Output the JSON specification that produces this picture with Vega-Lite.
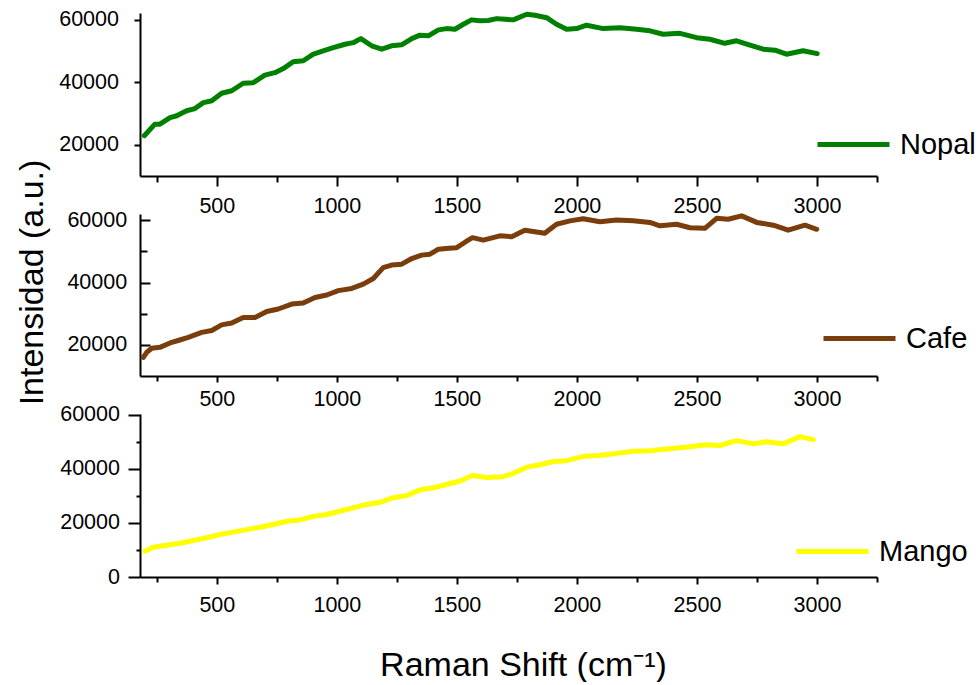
{
  "$schema": "https://vega.github.io/schema/vega-lite/v6.json",
  "background": "white",
  "padding": {"left": 14, "top": 8, "right": 0, "bottom": 0},
  "bounds": "flush",
  "spacing": 38,
  "config": {
    "view": {"stroke": null},
    "font": "Liberation Sans",
    "axis": {
      "labelFont": "Liberation Sans",
      "labelFontSize": 21.5,
      "labelColor": "black",
      "domainColor": "black",
      "tickColor": "black",
      "domainWidth": 2,
      "tickWidth": 2,
      "grid": false,
      "titleFont": "Liberation Sans",
      "titleFontWeight": "normal",
      "titleColor": "black",
      "titleFontSize": 34,
      "format": "d"
    },
    "legend": {
      "labelFont": "Liberation Sans",
      "labelFontSize": 29,
      "labelColor": "black"
    }
  },
  "datasets": {
    "spectra": [
      {"sample": "Nopal", "shift": 198, "intensity": 22900},
      {"sample": "Nopal", "shift": 242, "intensity": 26600},
      {"sample": "Nopal", "shift": 263, "intensity": 26600},
      {"sample": "Nopal", "shift": 305, "intensity": 28700},
      {"sample": "Nopal", "shift": 333, "intensity": 29300},
      {"sample": "Nopal", "shift": 374, "intensity": 30900},
      {"sample": "Nopal", "shift": 409, "intensity": 31600},
      {"sample": "Nopal", "shift": 444, "intensity": 33500},
      {"sample": "Nopal", "shift": 479, "intensity": 34100},
      {"sample": "Nopal", "shift": 520, "intensity": 36500},
      {"sample": "Nopal", "shift": 562, "intensity": 37300},
      {"sample": "Nopal", "shift": 610, "intensity": 39700},
      {"sample": "Nopal", "shift": 652, "intensity": 39900},
      {"sample": "Nopal", "shift": 700, "intensity": 42300},
      {"sample": "Nopal", "shift": 742, "intensity": 43100},
      {"sample": "Nopal", "shift": 777, "intensity": 44400},
      {"sample": "Nopal", "shift": 818, "intensity": 46600},
      {"sample": "Nopal", "shift": 860, "intensity": 46900},
      {"sample": "Nopal", "shift": 902, "intensity": 49000},
      {"sample": "Nopal", "shift": 943, "intensity": 50100},
      {"sample": "Nopal", "shift": 985, "intensity": 51100},
      {"sample": "Nopal", "shift": 1034, "intensity": 52200},
      {"sample": "Nopal", "shift": 1068, "intensity": 52700},
      {"sample": "Nopal", "shift": 1100, "intensity": 54000},
      {"sample": "Nopal", "shift": 1145, "intensity": 51700},
      {"sample": "Nopal", "shift": 1187, "intensity": 50600},
      {"sample": "Nopal", "shift": 1228, "intensity": 51700},
      {"sample": "Nopal", "shift": 1270, "intensity": 52000},
      {"sample": "Nopal", "shift": 1312, "intensity": 54000},
      {"sample": "Nopal", "shift": 1346, "intensity": 55100},
      {"sample": "Nopal", "shift": 1381, "intensity": 54900},
      {"sample": "Nopal", "shift": 1423, "intensity": 56800},
      {"sample": "Nopal", "shift": 1457, "intensity": 57200},
      {"sample": "Nopal", "shift": 1492, "intensity": 57000},
      {"sample": "Nopal", "shift": 1527, "intensity": 58600},
      {"sample": "Nopal", "shift": 1561, "intensity": 60000},
      {"sample": "Nopal", "shift": 1596, "intensity": 59700},
      {"sample": "Nopal", "shift": 1630, "intensity": 59800},
      {"sample": "Nopal", "shift": 1666, "intensity": 60400},
      {"sample": "Nopal", "shift": 1735, "intensity": 60000},
      {"sample": "Nopal", "shift": 1791, "intensity": 61800},
      {"sample": "Nopal", "shift": 1825, "intensity": 61500},
      {"sample": "Nopal", "shift": 1874, "intensity": 60700},
      {"sample": "Nopal", "shift": 1915, "intensity": 58600},
      {"sample": "Nopal", "shift": 1957, "intensity": 57000},
      {"sample": "Nopal", "shift": 1999, "intensity": 57200},
      {"sample": "Nopal", "shift": 2040, "intensity": 58300},
      {"sample": "Nopal", "shift": 2110, "intensity": 57200},
      {"sample": "Nopal", "shift": 2179, "intensity": 57500},
      {"sample": "Nopal", "shift": 2249, "intensity": 57000},
      {"sample": "Nopal", "shift": 2304, "intensity": 56500},
      {"sample": "Nopal", "shift": 2359, "intensity": 55400},
      {"sample": "Nopal", "shift": 2429, "intensity": 55700},
      {"sample": "Nopal", "shift": 2499, "intensity": 54300},
      {"sample": "Nopal", "shift": 2554, "intensity": 53800},
      {"sample": "Nopal", "shift": 2616, "intensity": 52500},
      {"sample": "Nopal", "shift": 2665, "intensity": 53300},
      {"sample": "Nopal", "shift": 2721, "intensity": 51900},
      {"sample": "Nopal", "shift": 2776, "intensity": 50600},
      {"sample": "Nopal", "shift": 2825, "intensity": 50300},
      {"sample": "Nopal", "shift": 2873, "intensity": 49000},
      {"sample": "Nopal", "shift": 2942, "intensity": 50100},
      {"sample": "Nopal", "shift": 3001, "intensity": 49200},
      {"sample": "Cafe", "shift": 194, "intensity": 16000},
      {"sample": "Cafe", "shift": 208, "intensity": 17600},
      {"sample": "Cafe", "shift": 229, "intensity": 18900},
      {"sample": "Cafe", "shift": 263, "intensity": 19200},
      {"sample": "Cafe", "shift": 305, "intensity": 20600},
      {"sample": "Cafe", "shift": 339, "intensity": 21400},
      {"sample": "Cafe", "shift": 381, "intensity": 22400},
      {"sample": "Cafe", "shift": 437, "intensity": 24000},
      {"sample": "Cafe", "shift": 479, "intensity": 24600},
      {"sample": "Cafe", "shift": 520, "intensity": 26400},
      {"sample": "Cafe", "shift": 562, "intensity": 27000},
      {"sample": "Cafe", "shift": 610, "intensity": 28800},
      {"sample": "Cafe", "shift": 659, "intensity": 28800},
      {"sample": "Cafe", "shift": 708, "intensity": 30700},
      {"sample": "Cafe", "shift": 756, "intensity": 31500},
      {"sample": "Cafe", "shift": 812, "intensity": 33100},
      {"sample": "Cafe", "shift": 860, "intensity": 33400},
      {"sample": "Cafe", "shift": 909, "intensity": 35200},
      {"sample": "Cafe", "shift": 958, "intensity": 36000},
      {"sample": "Cafe", "shift": 1006, "intensity": 37400},
      {"sample": "Cafe", "shift": 1062, "intensity": 38100},
      {"sample": "Cafe", "shift": 1110, "intensity": 39500},
      {"sample": "Cafe", "shift": 1152, "intensity": 41300},
      {"sample": "Cafe", "shift": 1193, "intensity": 44800},
      {"sample": "Cafe", "shift": 1228, "intensity": 45600},
      {"sample": "Cafe", "shift": 1270, "intensity": 45900},
      {"sample": "Cafe", "shift": 1312, "intensity": 47700},
      {"sample": "Cafe", "shift": 1353, "intensity": 48800},
      {"sample": "Cafe", "shift": 1388, "intensity": 49100},
      {"sample": "Cafe", "shift": 1423, "intensity": 50700},
      {"sample": "Cafe", "shift": 1467, "intensity": 51000},
      {"sample": "Cafe", "shift": 1499, "intensity": 51200},
      {"sample": "Cafe", "shift": 1537, "intensity": 53100},
      {"sample": "Cafe", "shift": 1565, "intensity": 54400},
      {"sample": "Cafe", "shift": 1610, "intensity": 53600},
      {"sample": "Cafe", "shift": 1679, "intensity": 55000},
      {"sample": "Cafe", "shift": 1728, "intensity": 54700},
      {"sample": "Cafe", "shift": 1783, "intensity": 56800},
      {"sample": "Cafe", "shift": 1866, "intensity": 55800},
      {"sample": "Cafe", "shift": 1915, "intensity": 58700},
      {"sample": "Cafe", "shift": 1971, "intensity": 59800},
      {"sample": "Cafe", "shift": 2026, "intensity": 60500},
      {"sample": "Cafe", "shift": 2096, "intensity": 59500},
      {"sample": "Cafe", "shift": 2165, "intensity": 60100},
      {"sample": "Cafe", "shift": 2235, "intensity": 59800},
      {"sample": "Cafe", "shift": 2304, "intensity": 59300},
      {"sample": "Cafe", "shift": 2346, "intensity": 58200},
      {"sample": "Cafe", "shift": 2415, "intensity": 58700},
      {"sample": "Cafe", "shift": 2471, "intensity": 57600},
      {"sample": "Cafe", "shift": 2533, "intensity": 57400},
      {"sample": "Cafe", "shift": 2582, "intensity": 60600},
      {"sample": "Cafe", "shift": 2630, "intensity": 60300},
      {"sample": "Cafe", "shift": 2686, "intensity": 61400},
      {"sample": "Cafe", "shift": 2749, "intensity": 59300},
      {"sample": "Cafe", "shift": 2818, "intensity": 58400},
      {"sample": "Cafe", "shift": 2880, "intensity": 56800},
      {"sample": "Cafe", "shift": 2950, "intensity": 58400},
      {"sample": "Cafe", "shift": 2999, "intensity": 57100},
      {"sample": "Mango", "shift": 201, "intensity": 9500},
      {"sample": "Mango", "shift": 235, "intensity": 11000},
      {"sample": "Mango", "shift": 291, "intensity": 11700},
      {"sample": "Mango", "shift": 347, "intensity": 12500},
      {"sample": "Mango", "shift": 402, "intensity": 13500},
      {"sample": "Mango", "shift": 458, "intensity": 14500},
      {"sample": "Mango", "shift": 513, "intensity": 15700},
      {"sample": "Mango", "shift": 569, "intensity": 16600},
      {"sample": "Mango", "shift": 624, "intensity": 17500},
      {"sample": "Mango", "shift": 680, "intensity": 18400},
      {"sample": "Mango", "shift": 735, "intensity": 19400},
      {"sample": "Mango", "shift": 791, "intensity": 20600},
      {"sample": "Mango", "shift": 846, "intensity": 21100},
      {"sample": "Mango", "shift": 902, "intensity": 22400},
      {"sample": "Mango", "shift": 958, "intensity": 23100},
      {"sample": "Mango", "shift": 1013, "intensity": 24300},
      {"sample": "Mango", "shift": 1069, "intensity": 25600},
      {"sample": "Mango", "shift": 1124, "intensity": 26800},
      {"sample": "Mango", "shift": 1180, "intensity": 27600},
      {"sample": "Mango", "shift": 1235, "intensity": 29300},
      {"sample": "Mango", "shift": 1291, "intensity": 30100},
      {"sample": "Mango", "shift": 1346, "intensity": 32200},
      {"sample": "Mango", "shift": 1402, "intensity": 33000},
      {"sample": "Mango", "shift": 1457, "intensity": 34200},
      {"sample": "Mango", "shift": 1513, "intensity": 35500},
      {"sample": "Mango", "shift": 1565, "intensity": 37500},
      {"sample": "Mango", "shift": 1624, "intensity": 36800},
      {"sample": "Mango", "shift": 1693, "intensity": 37100},
      {"sample": "Mango", "shift": 1735, "intensity": 38300},
      {"sample": "Mango", "shift": 1791, "intensity": 40600},
      {"sample": "Mango", "shift": 1846, "intensity": 41500},
      {"sample": "Mango", "shift": 1902, "intensity": 42700},
      {"sample": "Mango", "shift": 1957, "intensity": 43000},
      {"sample": "Mango", "shift": 2026, "intensity": 44600},
      {"sample": "Mango", "shift": 2096, "intensity": 44900},
      {"sample": "Mango", "shift": 2165, "intensity": 45700},
      {"sample": "Mango", "shift": 2235, "intensity": 46500},
      {"sample": "Mango", "shift": 2304, "intensity": 46700},
      {"sample": "Mango", "shift": 2374, "intensity": 47300},
      {"sample": "Mango", "shift": 2443, "intensity": 47900},
      {"sample": "Mango", "shift": 2540, "intensity": 48900},
      {"sample": "Mango", "shift": 2596, "intensity": 48600},
      {"sample": "Mango", "shift": 2665, "intensity": 50400},
      {"sample": "Mango", "shift": 2735, "intensity": 49200},
      {"sample": "Mango", "shift": 2790, "intensity": 50000},
      {"sample": "Mango", "shift": 2860, "intensity": 49200},
      {"sample": "Mango", "shift": 2929, "intensity": 51900},
      {"sample": "Mango", "shift": 2985, "intensity": 50800}
    ]
  },
  "vconcat": [
    {
      "width": 737,
      "height": 163,
      "data": {"name": "spectra"},
      "transform": [{"filter": "datum.sample === 'Nopal'"}],
      "layer": [
        {
          "mark": {"type": "line", "strokeWidth": 5, "strokeCap": "round", "strokeJoin": "round"},
          "encoding": {
            "x": {"field": "shift", "type": "quantitative",
              "scale": {"domain": [180, 3250], "nice": false, "zero": false},
              "axis": {"orient": "bottom", "values": [500, 1000, 1500, 2000, 2500, 3000], "tickSize": 10, "labelPadding": 9.7, "title": null}},
            "y": {"field": "intensity", "type": "quantitative",
              "scale": {"domain": [10000, 62200], "nice": false, "zero": false},
              "axis": {"orient": "left", "values": [20000, 40000, 60000], "tickSize": 6, "labelPadding": 15.5, "title": null}},
            "color": {"field": "sample", "type": "nominal",
              "scale": {"domain": ["Nopal"], "range": ["#008000"]},
              "legend": {"orient": "none", "legendX": 675, "legendY": 93, "title": null, "symbolType": "stroke", "symbolSize": 5184, "symbolStrokeWidth": 5, "labelOffset": 8, "padding": 0}}
          }
        },
        {
          "mark": {"type": "line", "opacity": 0},
          "encoding": {
            "x": {"field": "shift", "type": "quantitative",
              "axis": {"orient": "bottom", "values": [250, 750, 1250, 1750, 2250, 2750, 3250], "tickSize": 6, "labels": false, "domain": false, "title": null}},
            "y": {"field": "intensity", "type": "quantitative", "axis": null}
          }
        }
      ],
      "resolve": {"axis": {"x": "independent", "y": "independent"}}
    },
    {
      "width": 737,
      "height": 162,
      "data": {"name": "spectra"},
      "transform": [{"filter": "datum.sample === 'Cafe'"}],
      "layer": [
        {
          "mark": {"type": "line", "strokeWidth": 5, "strokeCap": "round", "strokeJoin": "round"},
          "encoding": {
            "x": {"field": "shift", "type": "quantitative",
              "scale": {"domain": [180, 3250], "nice": false, "zero": false},
              "axis": {"orient": "bottom", "values": [500, 1000, 1500, 2000, 2500, 3000], "tickSize": 6, "labelPadding": 6.5, "title": null}},
            "y": {"field": "intensity", "type": "quantitative",
              "scale": {"domain": [10000, 62000], "nice": false, "zero": false},
              "axis": {"orient": "left", "values": [20000, 40000, 60000], "tickSize": -10, "labelPadding": 23.3,
                "title": "Intensidad (a.u.)", "titleAngle": -90, "titleAlign": "center", "titleBaseline": "middle", "titleX": -108, "titleY": 68}},
            "color": {"field": "sample", "type": "nominal",
              "scale": {"domain": ["Cafe"], "range": ["#7a3d0c"]},
              "legend": {"orient": "none", "legendX": 681, "legendY": 86, "title": null, "symbolType": "stroke", "symbolSize": 5184, "symbolStrokeWidth": 5, "labelOffset": 8, "padding": 0}}
          }
        },
        {
          "mark": {"type": "line", "opacity": 0},
          "encoding": {
            "x": {"field": "shift", "type": "quantitative",
              "axis": {"orient": "bottom", "values": [250, 750, 1250, 1750, 2250, 2750, 3250], "tickSize": 5, "labels": false, "domain": false, "title": null}},
            "y": {"field": "intensity", "type": "quantitative",
              "axis": {"orient": "left", "values": [30000, 50000], "tickSize": -7, "labels": false, "domain": false, "title": null}}
          }
        }
      ],
      "resolve": {"axis": {"x": "independent", "y": "independent"}}
    },
    {
      "width": 737,
      "height": 163,
      "data": {"name": "spectra"},
      "transform": [{"filter": "datum.sample === 'Mango'"}],
      "layer": [
        {
          "mark": {"type": "line", "strokeWidth": 5, "strokeCap": "round", "strokeJoin": "round"},
          "encoding": {
            "x": {"field": "shift", "type": "quantitative",
              "scale": {"domain": [180, 3250], "nice": false, "zero": false},
              "axis": {"orient": "bottom", "values": [500, 1000, 1500, 2000, 2500, 3000], "tickSize": 7, "labelPadding": 10.3,
                "title": "Raman Shift (cm⁻¹)", "titleAlign": "center", "titleBaseline": "alphabetic", "titleX": 383, "titleY": 98}},
            "y": {"field": "intensity", "type": "quantitative",
              "scale": {"domain": [0, 60250], "nice": false, "zero": false},
              "axis": {"orient": "left", "values": [0, 20000, 40000, 60000], "tickSize": 12, "labelPadding": 8.5, "title": null}},
            "color": {"field": "sample", "type": "nominal",
              "scale": {"domain": ["Mango"], "range": ["#ffff00"]},
              "legend": {"orient": "none", "legendX": 654, "legendY": 99, "title": null, "symbolType": "stroke", "symbolSize": 5184, "symbolStrokeWidth": 5, "labelOffset": 8, "padding": 0}}
          }
        },
        {
          "mark": {"type": "line", "opacity": 0},
          "encoding": {
            "x": {"field": "shift", "type": "quantitative",
              "axis": {"orient": "bottom", "values": [250, 750, 1250, 1750, 2250, 2750, 3250], "tickSize": 5, "labels": false, "domain": false, "title": null}},
            "y": {"field": "intensity", "type": "quantitative",
              "axis": {"orient": "left", "values": [10000, 30000, 50000], "tickSize": 4, "labels": false, "domain": false, "title": null}}
          }
        }
      ],
      "resolve": {"axis": {"x": "independent", "y": "independent"}}
    }
  ],
  "resolve": {"scale": {"color": "independent"}, "legend": {"color": "independent"}}
}
